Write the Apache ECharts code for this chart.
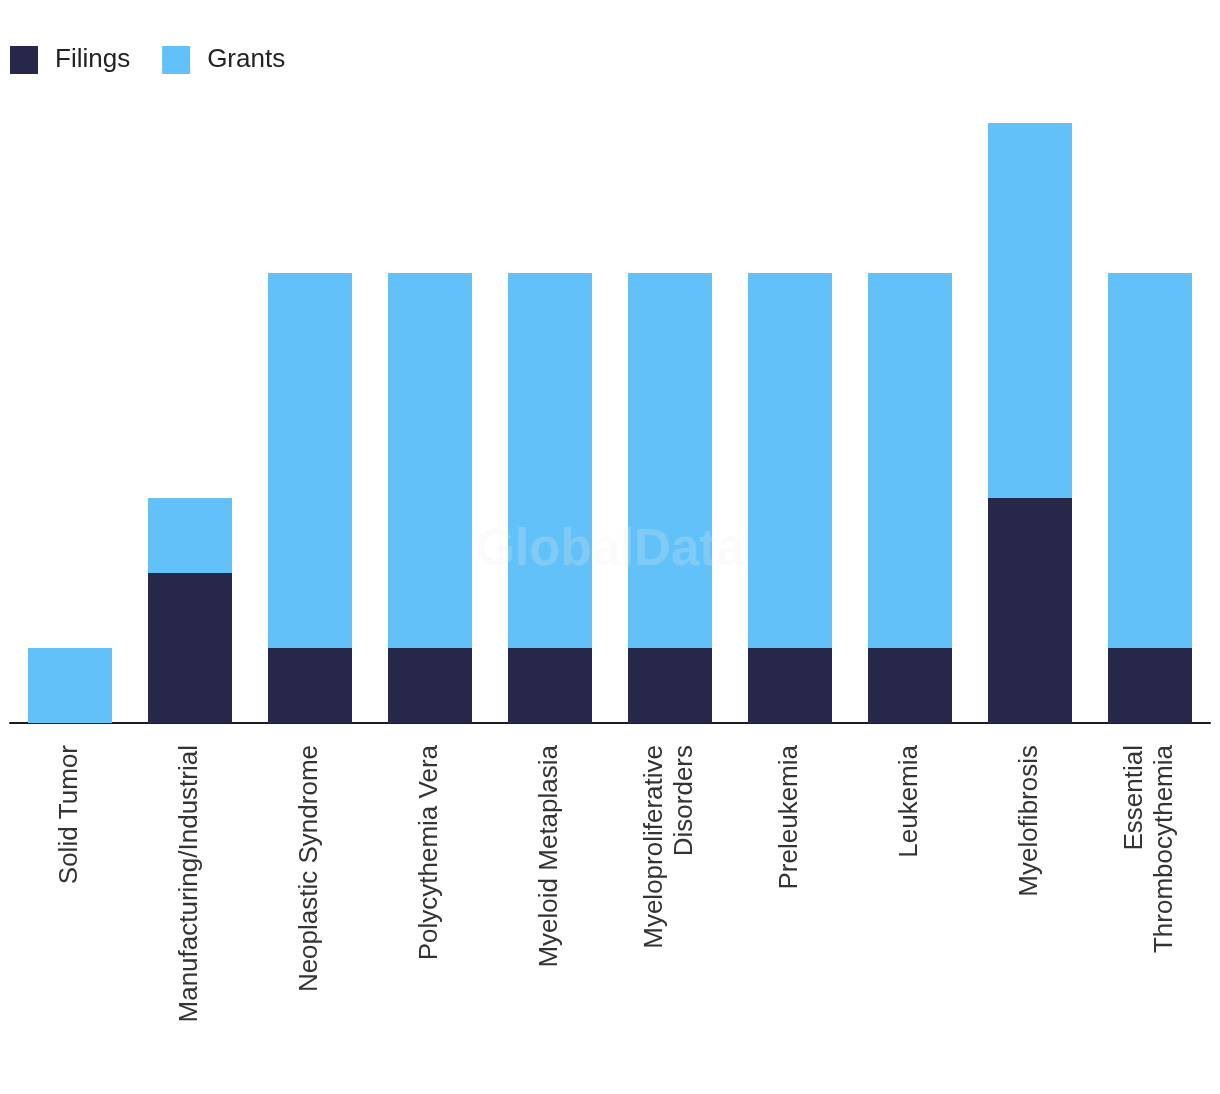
<!DOCTYPE html>
<html>
<head>
<meta charset="utf-8">
<script src="https://cdn.jsdelivr.net/npm/echarts@6/dist/echarts.min.js"></script>
<style>html,body{margin:0;padding:0;background:#fff}#c{width:1220px;height:1094px}</style>
</head>
<body>
<div id="c"></div>
<script>
const categories = ["Solid Tumor","Manufacturing/Industrial","Neoplastic Syndrome","Polycythemia Vera","Myeloid Metaplasia","Myeloproliferative\nDisorders","Preleukemia","Leukemia","Myelofibrosis","Essential\nThrombocythemia"];
const filings = [0,2,1,1,1,1,1,1,3,1];
const grants  = [1,1,5,5,5,5,5,5,5,5];

const chart = echarts.init(document.getElementById('c'));
chart.setOption({
  animation:false,
  backgroundColor:'#fff',
  legend:{
    left:10, top:46, padding:0, itemWidth:28, itemHeight:28, itemGap:32, icon:'rect',
    textStyle:{fontFamily:'Liberation Sans', fontSize:26, color:'#222', padding:[0,0,0,12]},
    data:['Filings','Grants']
  },
  graphic:[{type:'text', left:'center', top:525, z:100,
    style:{text:'GlobalData', font:'bold 51px Liberation Sans', fill:'rgba(235,235,235,0.22)'}}],
  grid:{left:10, right:10, top:123, bottom:371, containLabel:false},
  xAxis:{type:'category', data:categories,
    axisLine:{lineStyle:{color:'#1a1a2a', width:2}},
    axisTick:{show:false},
    axisLabel:{rotate:90, margin:22, interval:0, fontFamily:'Liberation Sans', fontSize:26, color:'#333', lineHeight:30}
  },
  yAxis:{type:'value', min:0, max:8, show:false, splitLine:{show:false}},
  series:[
    {name:'Filings', type:'bar', stack:'a', data:filings, barWidth:'70%', itemStyle:{color:'#272849'}},
    {name:'Grants', type:'bar', stack:'a', data:grants, barWidth:'70%', itemStyle:{color:'#62C1F9'}}
  ]
});
</script>
</body>
</html>
